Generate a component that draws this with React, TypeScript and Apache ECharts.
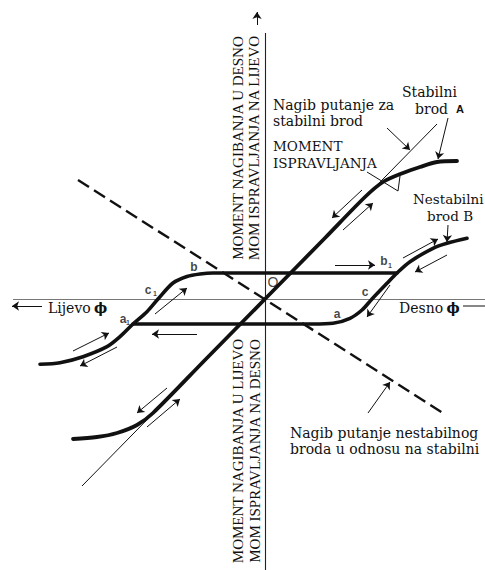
import React, { useEffect, useRef } from "react";
import * as echarts from "echarts";

const W = 485;
const H = 570;
const INK = "#111";
const SERIF = '"Liberation Serif", "Times New Roman", serif';
const CAPTION_SERIF = '"DejaVu Serif", "Liberation Serif", serif';
const SANS = '"Liberation Sans", Arial, sans-serif';

// Heel angle (x, right = Desno) and moment (y) on a common scale, origin O at the crossing
const xRange = [-265, 220];
const yRange = [-271, 299];

// Stable boat A: righting moment grows with heel, then levels off
const stableBoat = [
  [-192, -140], [-168, -138], [-148, -134], [-128, -126], [-112, -114],
  [-60, -61], [0, 0], [60, 61], [100, 102],
  [118, 117], [138, 126], [155, 132], [172, 137], [192, 138],
];

// Unstable boat B: lower branch a1 -> a -> c -> b1 and beyond
const unstableRight = [
  [-132, -25], [-40, -25], [48, -25], [68, -24.3], [85, -19.3],
  [97, -11], [107, 0], [122, 15.7], [132, 26], [145, 37.3], [168, 50.7],
  [182, 55.7], [202, 60.7],
];

// Unstable boat B: upper branch from the far left through a1, c1, b to b1
const unstableLeft = [
  [-225, -65.3], [-205, -63.7], [-182, -57.7], [-158, -47.7], [-145, -37.7],
  [-132, -25], [-118, -12.7], [-107, 0], [-92, 16], [-78, 22.5], [-65, 25],
  [-52, 26], [40, 26], [132, 26],
];

// Slope of the path for the stable boat (thin) and the unstable one (dashed)
const stableSlope = [[-183, -187], [172, 175]];
const unstableSlope = [[-187, 119], [178, -114]];

// Axes
const horizontalAxis = [[-252, 0], [220, 0]];
const verticalAxis = [[0, 266], [0, -271]];

// Direction-of-travel arrows along the curves (tail -> head)
const flowArrows = [
  [[97, 109], [67, 81]],
  [[78, 69], [108, 96]],
  [[-98, -89], [-128, -114]],
  [[-118, -128], [-85, -100]],
  [[70, 34], [110, 34]],
  [[138, 41], [173, 60]],
  [[182, 44], [150, 27]],
  [[125, 14], [102, -18]],
  [[-68, -35], [-113, -35]],
  [[-110, -15], [-78, 11]],
  [[-192, -52], [-156, -34]],
  [[-148, -48], [-185, -67]],
];

// Arrowed pointers from the captions and the axis ends
const pointerArrows = [
  [[122, 171], [145, 149]],
  [[183, 181], [173, 140]],
  [[183, 74], [182, 57]],
  [[103, -114], [125, -83]],
  [[-8, 274], [-8, 287]],
  [[-223, -7], [-253, -7]],
];

// Plain strokes: the righting-moment marker and the right axis stub
const plainStrokes = [
  [[102, 127], [133, 108], [135, 123]],
  [[198, -7], [220, -7]],
];

// Point letters on the curves
const pointLetters = [
  { name: "b", value: [-71, 32] },
  { name: "b", value: [119, 38] },
  { name: "c", value: [100, 7] },
  { name: "a", value: [72, -15] },
  { name: "c", value: [-117, 9] },
  { name: "a", value: [-142, -20] },
];
const pointSubscripts = [
  { name: "1", value: [125, 34] },
  { name: "1", value: [-110, 6] },
  { name: "1", value: [-137, -23] },
];
const originLetter = [{ name: "O", value: [8, 17] }];

// Captions: lines, left x of each line, centre y of the first line, font size
const captions: { lines: string[]; x: number[]; y: number; size: number }[] = [
  { lines: ["Nagib putanje za", "stabilni brod"], x: [273, 273], y: 104.5, size: 14 },
  { lines: ["MOMENT", "ISPRAVLJANJA"], x: [273, 273], y: 146, size: 13.5 },
  { lines: ["Stabilni", "brod"], x: [402, 415], y: 92, size: 14 },
  { lines: ["Nestabilni", "brod B"], x: [413, 427], y: 199, size: 13.5 },
  { lines: ["Nagib putanje nestabilnog", "broda u odnosu na stabilni"], x: [290, 290], y: 432.5, size: 14 },
];
const LINE_STEP = 16.6;

// Horizontal axis names with the heel-angle symbol
const axisNames: [string, number][] = [
  ["Lijevo", 48],
  ["Desno", 399],
];
const PHI = "\u03d5";

// Vertical axis titles: [text, centre x, centre y]
const axisTitles: [string, number, number][] = [
  ["MOMENT NAGIBANJA U DESNO", 238, 148],
  ["MOM ISPRAVLJANJA NA LIJEVO", 254, 148],
  ["MOMENT NAGIBANJA U LIJEVO", 238, 451],
  ["MOM ISPRAVLJANJA NA DESNO", 255, 451],
];

const curve = (data: number[][], width: number) => ({
  type: "line",
  data,
  showSymbol: false,
  smooth: 0.3,
  silent: true,
  lineStyle: { color: INK, width, cap: "round", join: "round" },
  z: 5,
});

const segments = (data: number[][][], head: boolean, width = 1, color = INK) => ({
  type: "lines",
  coordinateSystem: "cartesian2d",
  silent: true,
  symbol: head ? ["none", "arrow"] : ["none", "none"],
  symbolSize: 7,
  lineStyle: { color, width, opacity: 1, curveness: 0 },
  data: data.map((coords) => ({ coords })),
  z: 4,
});

const letterSeries = (data: any[], size: number, family: string, weight: string) => ({
  type: "scatter",
  data,
  symbolSize: 0,
  silent: true,
  label: {
    show: true,
    position: "inside",
    formatter: (p: any) => p.name,
    color: INK,
    fontSize: size,
    fontFamily: family,
    fontWeight: weight,
  },
  z: 6,
});

export default function App() {
  const ref = useRef<HTMLDivElement>(null);

  useEffect(() => {
    const chart = echarts.init(ref.current!, null, { renderer: "svg" });

    const captionTexts: any[] = [];
    captions.forEach(({ lines, x, y, size }) => {
      lines.forEach((line, i) => {
        captionTexts.push({
          type: "text",
          x: x[i],
          y: y + i * LINE_STEP,
          style: {
            text: line,
            fill: INK,
            font: `${size}px ${CAPTION_SERIF}`,
            align: "left",
            verticalAlign: "middle",
          },
        });
      });
    });

    const axisNameTexts = axisNames.map(([name, x]) => ({
      type: "text",
      x,
      y: 308,
      style: {
        text: `{t|${name}} {p|${PHI}}`,
        align: "left",
        verticalAlign: "middle",
        rich: {
          t: { fontSize: 14, fontFamily: CAPTION_SERIF, fill: INK, color: INK },
          p: { fontSize: 14, fontFamily: CAPTION_SERIF, fontWeight: "bold", fill: INK, color: INK },
        },
      },
    }));

    const graphic: any[] = [
      ...captionTexts,
      ...axisNameTexts,
      ...axisTitles.map(([text, x, y]) => ({
        type: "text",
        x,
        y,
        rotation: Math.PI / 2,
        style: {
          text,
          fill: INK,
          font: `15px ${SERIF}`,
          align: "center",
          verticalAlign: "middle",
        },
      })),
      {
        type: "text",
        x: 460,
        y: 109,
        style: {
          text: "A",
          fill: INK,
          font: `bold 11px ${SANS}`,
          align: "center",
          verticalAlign: "middle",
        },
      },
    ];

    chart.setOption({
      animation: false,
      backgroundColor: "#fff",
      grid: { left: 0, right: 0, top: 0, bottom: 0, containLabel: false },
      xAxis: { type: "value", min: xRange[0], max: xRange[1], show: false },
      yAxis: { type: "value", min: yRange[0], max: yRange[1], show: false },
      graphic,
      series: [
        segments([horizontalAxis], false, 1, "#777"),
        segments([verticalAxis], false, 1.1, "#222"),
        segments([stableSlope], false, 1),
        {
          type: "line",
          data: unstableSlope,
          showSymbol: false,
          silent: true,
          lineStyle: { color: INK, width: 2.4, type: [13, 6] },
          z: 4,
        },
        curve(stableBoat, 3.8),
        curve(unstableRight, 3.6),
        curve(unstableLeft, 3.6),
        segments(flowArrows, true, 1),
        segments(pointerArrows, true, 1),
        { ...segments(plainStrokes, false, 1), polyline: true },
        letterSeries(pointLetters, 12, SANS, "bold"),
        letterSeries(pointSubscripts, 7, SANS, "bold"),
        letterSeries(originLetter, 14, SANS, "normal"),
      ],
    });

    return () => chart.dispose();
  }, []);

  return (
    <div
      ref={ref}
      style={{ position: "absolute", left: 0, top: 0, width: W, height: H, background: "#fff" }}
    />
  );
}
